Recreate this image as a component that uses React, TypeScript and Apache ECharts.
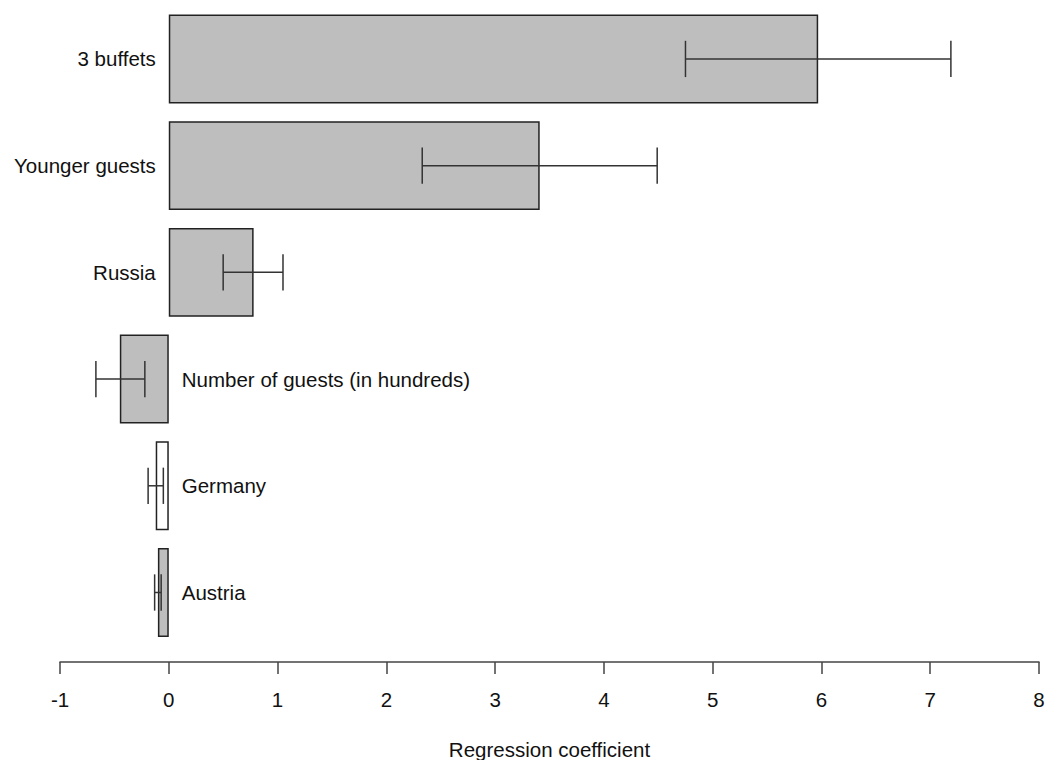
import React, { useEffect, useRef } from "react";
import * as echarts from "echarts";

const categories = [
  "3 buffets",
  "Younger guests",
  "Russia",
  "Number of guests (in hundreds)",
  "Germany",
  "Austria",
];
const coefficients = [5.97, 3.41, 0.78, -0.45, -0.12, -0.1];
const ciLower = [4.75, 2.33, 0.5, -0.67, -0.19, -0.13];
const ciUpper = [7.19, 4.49, 1.05, -0.22, -0.05, -0.07];
const xMin = -1;
const xMax = 8;
const xStep = 1;
const xTitle = "Regression coefficient";
const openBarCategories = ["Germany"];

const FONT = "'Liberation Sans', Arial, Helvetica, sans-serif";
const TEXT = "#111111";
const FS = 20.5;

export default function App() {
  const ref = useRef<HTMLDivElement>(null);

  useEffect(() => {
    document.body.style.margin = "0";
    if (!ref.current) return;
    const chart = echarts.init(ref.current, undefined, { renderer: "svg" });

    const option: any = {
      animation: false,
      backgroundColor: "#ffffff",
      textStyle: { fontFamily: FONT },
      grid: {
        left: 60,
        right: 6,
        top: 5.6,
        bottom: 114.15,
        containLabel: false,
        outerBoundsMode: "none",
      },
      xAxis: {
        type: "value",
        min: xMin,
        max: xMax,
        interval: xStep,
        offset: 16.15,
        splitLine: { show: false },
        axisLine: { show: true, lineStyle: { color: "#444", width: 1.5 } },
        axisTick: { show: true, length: 12, lineStyle: { color: "#444", width: 1.5 } },
        axisLabel: { fontSize: FS, color: TEXT, margin: 27, fontFamily: FONT },
        name: xTitle,
        nameLocation: "middle",
        nameGap: 77,
        nameTextStyle: { fontSize: FS, color: TEXT, fontFamily: FONT },
      },
      yAxis: {
        type: "category",
        data: categories,
        inverse: true,
        show: false,
      },
      series: [
        {
          type: "bar",
          barCategoryGap: "16.67%",
          data: coefficients.map((v, i) => ({
            value: v,
            itemStyle: {
              color: openBarCategories.includes(categories[i]) ? "#ffffff" : "#bebebe",
              borderColor: "#222",
              borderWidth: 1.5,
            },
          })),
          z: 2,
        },
        {
          type: "custom",
          z: 3,
          silent: true,
          data: categories.map((c, i) => [i, ciLower[i], ciUpper[i], coefficients[i]]),
          encode: { x: [1, 2], y: 0 },
          renderItem: (params: any, api: any) => {
            const cat = api.value(0);
            const lo = api.coord([api.value(1), cat]);
            const hi = api.coord([api.value(2), cat]);
            const zero = api.coord([0, cat]);
            const positive = api.value(3) >= 0;
            const h = api.size([0, 1])[1] * 0.17;
            const style = { stroke: "#333", lineWidth: 1.5 };
            return {
              type: "group",
              children: [
                { type: "line", shape: { x1: lo[0], y1: lo[1], x2: hi[0], y2: hi[1] }, style },
                { type: "line", shape: { x1: lo[0], y1: lo[1] - h, x2: lo[0], y2: lo[1] + h }, style },
                { type: "line", shape: { x1: hi[0], y1: hi[1] - h, x2: hi[0], y2: hi[1] + h }, style },
                {
                  type: "text",
                  x: zero[0] + (positive ? -13 : 13),
                  y: zero[1],
                  style: {
                    text: categories[params.dataIndex],
                    fill: TEXT,
                    fontSize: FS,
                    fontFamily: FONT,
                    align: positive ? "right" : "left",
                    verticalAlign: "middle",
                  },
                },
              ],
            };
          },
        },
      ],
    };

    chart.setOption(option);
    return () => chart.dispose();
  }, []);

  return <div ref={ref} style={{ width: 1045, height: 760 }} />;
}
